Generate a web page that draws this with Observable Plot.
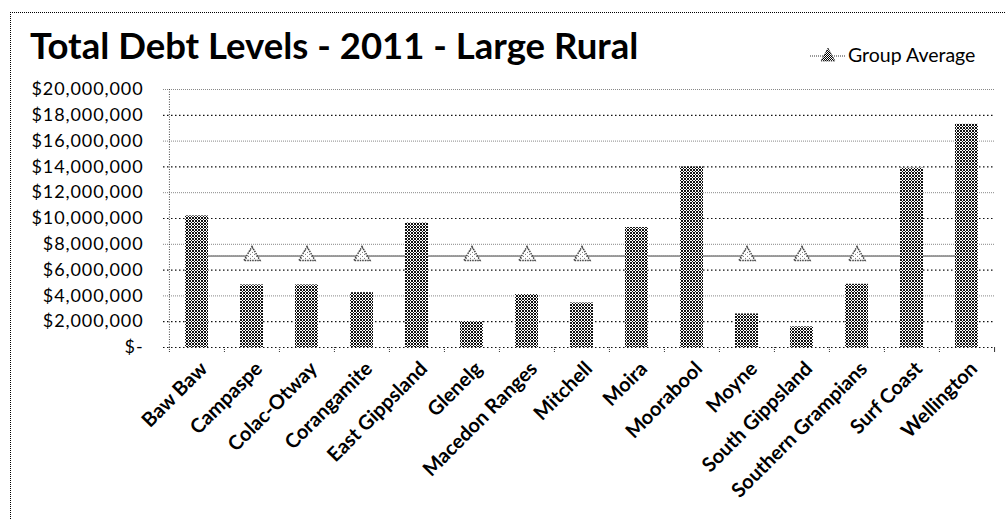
<!DOCTYPE html>
<html>
<head>
<meta charset="utf-8">
<script src="https://cdn.jsdelivr.net/npm/d3@7"></script>
<script src="https://cdn.jsdelivr.net/npm/@observablehq/plot@0.6"></script>
<style>
  html, body { margin: 0; padding: 0; background: #fff; }
  #wrap { position: relative; width: 1005px; height: 520px; overflow: hidden; font-family: Lato, "Open Sans", sans-serif; }
  #frame { position: absolute; left: 10px; top: 12px; width: 1200px; height: 700px; border-left: 1px dotted #000; border-top: 1px dotted #000; }
  #title { position: absolute; left: 30px; top: 23px; font-size: 36.5px; font-weight: 700; color: #000; white-space: nowrap; }
  #legend { position: absolute; left: 810px; top: 43px; font-size: 19.5px; color: #000; display: flex; align-items: center; white-space: nowrap; }
  #chart { position: absolute; left: 0; top: 70px; }
  #chart g[aria-label="y-axis tick label"] text { letter-spacing: 0.9px; }
</style>
</head>
<body>
<div id="wrap">
  <div id="frame"></div>
  <div id="title">Total Debt Levels - 2011 - Large Rural</div>
  <div id="legend">
    <svg width="36" height="20" style="margin-right:2px">
      <defs>
        <pattern id="lhatch" patternUnits="userSpaceOnUse" width="2" height="2">
          <rect width="2" height="2" fill="#fff"/><rect width="1" height="1" fill="#000"/><rect x="1" y="1" width="1" height="1" fill="#000"/>
        </pattern>
      </defs>
      <line x1="0" y1="11" x2="36" y2="11" stroke="#777" stroke-width="1.5" stroke-dasharray="1,1"/>
      <path d="M18,3 L25,16 L11,16 Z" fill="url(#lhatch)" stroke="#555" stroke-width="1" stroke-dasharray="1.5,1"/>
    </svg>
    <span>Group Average</span>
  </div>
  <div id="chart"></div>
</div>
<script>
const categories = ["Baw Baw", "Campaspe", "Colac-Otway", "Corangamite", "East Gippsland", "Glenelg", "Macedon Ranges", "Mitchell", "Moira", "Moorabool", "Moyne", "South Gippsland", "Southern Grampians", "Surf Coast", "Wellington"];
const totalDebt = [10200000, 4850000, 4850000, 4250000, 9650000, 2000000, 4100000, 3450000, 9300000, 14000000, 2600000, 1600000, 4900000, 13900000, 17300000];
const groupAverage = [7100000, 7100000, 7100000, 7100000, 7100000, 7100000, 7100000, 7100000, 7100000, 7100000, 7100000, 7100000, 7100000, 7100000, 7100000];
const yTicks = [0, 2000000, 4000000, 6000000, 8000000, 10000000, 12000000, 14000000, 16000000, 18000000, 20000000];
const yTickLabels = ["$-", "$2,000,000", "$4,000,000", "$6,000,000", "$8,000,000", "$10,000,000", "$12,000,000", "$14,000,000", "$16,000,000", "$18,000,000", "$20,000,000"];

const bars = categories.map((c, i) => ({category: c, debt: totalDebt[i]}));
const avg = categories.map((c, i) => ({category: c, avg: groupAverage[i]}));
const darkGrid = yTicks.filter((t, i) => i % 2 === 1 || i === 0);
const lightGrid = yTicks.filter((t, i) => i % 2 === 0 && i !== 0);

const W = 1005, ML = 168, MR = 10;
const step = (W - ML - MR) / categories.length;

const chart = Plot.plot({
  width: W,
  height: 450,
  marginLeft: ML,
  marginRight: MR,
  marginTop: 19,
  marginBottom: 173,
  style: {fontFamily: "Lato, 'Open Sans', sans-serif", color: "#000", background: "transparent", overflow: "visible"},
  x: {domain: categories, paddingInner: 0.58, paddingOuter: 0.29, label: null},
  y: {domain: [0, 20000000], label: null},
  marks: [
    Plot.ruleY(lightGrid, {stroke: "#888", strokeDasharray: "1,1", insetLeft: -5}),
    Plot.ruleY(darkGrid, {stroke: "#111", strokeDasharray: "1.5,2.5", strokeWidth: 1.2, insetLeft: -5}),
    Plot.ruleX([categories[0]], {dx: -step / 2, stroke: "#444", strokeDasharray: "1,1.5"}),
    Plot.axisY({ticks: yTicks, tickFormat: d => yTickLabels[yTicks.indexOf(d)], tickSize: 0, tickPadding: 25, fontSize: 18, fill: "#000"}),
    Plot.axisX({tickSize: 5, tickFormat: null, dx: -step / 2, stroke: "#333", strokeDasharray: "1,1", label: null}),
    Plot.axisX([categories[categories.length - 1]], {tickSize: 5, tickFormat: null, dx: step / 2, stroke: "#333", label: null}),
    Plot.axisX({tickSize: 0, tickPadding: 18, tickRotate: -45, fontSize: 20, fontWeight: "bold", dx: 7, fill: "#000", label: null}),
    Plot.line(avg, {x: "category", y: "avg", stroke: "#777", strokeWidth: 1.5, strokeDasharray: "1,1"}),
    Plot.dot(avg, {x: "category", y: "avg", symbol: "triangle", r: 6, fill: "url(#hatch2)", stroke: "#444", strokeDasharray: "1.5,1"}),
    Plot.barY(bars, {x: "category", y: "debt", fill: "url(#hatch)"})
  ]
});

const ns = "http://www.w3.org/2000/svg";
const defs = document.createElementNS(ns, "defs");
defs.innerHTML = `
  <pattern id="hatch" patternUnits="userSpaceOnUse" width="3" height="3">
    <rect width="3" height="3" fill="#fff"/>
    <rect x="0" y="0" width="2" height="2" fill="#111"/>
    <rect x="2" y="2" width="1" height="1" fill="#111"/>
  </pattern>
  <pattern id="hatch2" patternUnits="userSpaceOnUse" width="4" height="4">
    <rect width="4" height="4" fill="#fff"/>
    <rect x="0" y="0" width="1" height="1" fill="#777"/>
    <rect x="2" y="2" width="1" height="1" fill="#777"/>
  </pattern>`;
chart.insertBefore(defs, chart.firstChild);
document.getElementById("chart").appendChild(chart);
</script>
</body>
</html>
